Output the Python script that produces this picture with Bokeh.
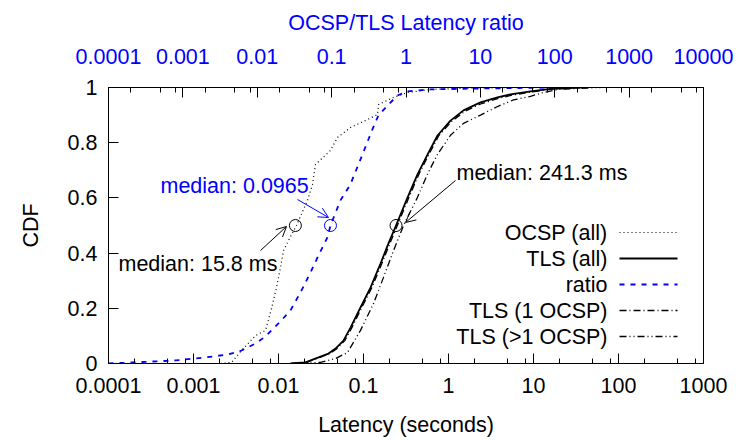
from bokeh.plotting import figure
from bokeh.models import (LogAxis, Range1d, LogScale, FixedTicker,
                          CustomJSTickFormatter, Label, Arrow, OpenHead)
from bokeh.embed import file_html
from bokeh.resources import INLINE

# ---------------- data ----------------
ocsp_lat = [0.00208, 0.0028, 0.00367, 0.00536, 0.00703, 0.00827, 0.00947, 0.01056,
            0.01145, 0.01384, 0.01628, 0.02194, 0.0251, 0.02724, 0.0409, 0.04945,
            0.07035, 0.1115, 0.1461, 0.1502, 0.2254, 0.3293, 0.6141, 1.815, 7.03]
ocsp_cdf = [0.0, 0.004, 0.047, 0.101, 0.120, 0.199, 0.275, 0.348,
            0.409, 0.460, 0.500, 0.591, 0.649, 0.721, 0.772, 0.819,
            0.855, 0.884, 0.902, 0.938, 0.964, 0.982, 0.993, 0.998, 1.0]

tls_lat = [0.01384, 0.02078, 0.02956, 0.03875, 0.04685, 0.05816, 0.07035, 0.09219,
           0.1209, 0.1585, 0.1968, 0.2413, 0.3293, 0.4317, 0.566, 0.7424, 1.056,
           1.502, 2.379, 3.771, 5.362, 9.22, 15.85, 35.7]
tls_cdf = [0.0, 0.004, 0.022, 0.036, 0.054, 0.083, 0.130, 0.203,
           0.275, 0.362, 0.435, 0.500, 0.601, 0.685, 0.757, 0.826, 0.880,
           0.917, 0.946, 0.964, 0.975, 0.986, 0.995, 1.0]

ratio_val = [0.0001, 0.000795, 0.002013, 0.0041, 0.00613, 0.00946, 0.01289, 0.01927,
             0.02794, 0.03926, 0.05353, 0.06646, 0.08779, 0.0965, 0.1313, 0.1789,
             0.2594, 0.3534, 0.4256, 0.5799, 0.7664, 1.044, 2.128, 7.34, 119.0]
ratio_cdf = [0.0, 0.011, 0.022, 0.033, 0.047, 0.072, 0.098, 0.145,
             0.192, 0.264, 0.337, 0.391, 0.457, 0.500, 0.591, 0.649,
             0.757, 0.848, 0.899, 0.938, 0.971, 0.986, 0.993, 0.996, 1.0]

tls1_lat = [0.0144, 0.0216, 0.0307, 0.0402, 0.0486, 0.0603, 0.073, 0.0956,
            0.1254, 0.1644, 0.2041, 0.2503, 0.3415, 0.4477, 0.587, 0.77, 1.095,
            1.558, 2.467, 3.911, 5.561, 9.56, 16.4, 37.0]
tls1_cdf = [0.0, 0.004, 0.022, 0.036, 0.054, 0.083, 0.130, 0.203,
            0.275, 0.362, 0.435, 0.500, 0.601, 0.685, 0.757, 0.826, 0.878,
            0.914, 0.942, 0.961, 0.972, 0.984, 0.994, 1.0]

tlsm_lat = [0.01815, 0.03119, 0.04685, 0.06482, 0.09219, 0.1311, 0.1719, 0.2254,
            0.2956, 0.4317, 0.566, 0.7424, 1.056, 1.502, 2.379, 3.771, 5.818,
            9.22, 13.11, 20.78, 61.4]
tlsm_cdf = [0.0, 0.004, 0.018, 0.040, 0.120, 0.217, 0.312, 0.409,
            0.500, 0.602, 0.686, 0.758, 0.827, 0.870, 0.900, 0.931, 0.955,
            0.968, 0.982, 0.994, 1.0]

ocsp_median_s = 0.0158
tls_median_s = 0.2413
ratio_median = 0.0965

lat_ticks = [0.0001, 0.001, 0.01, 0.1, 1, 10, 100, 1000]
ratio_ticks = [0.0001, 0.001, 0.01, 0.1, 1, 10, 100, 1000, 10000]
minor_factors = [2, 5, 8]
cdf_ticks = [0, 0.2, 0.4, 0.6, 0.8, 1]

series_names = ["OCSP (all)", "TLS (all)", "ratio", "TLS (1 OCSP)", "TLS (>1 OCSP)"]

# ---------------- styles ----------------
FONT = "Liberation Sans"
FS = "21.5px"
BLUE = "#0000ff"
styles = {
    "OCSP (all)": dict(line_color="black", line_width=1.2, line_dash="1 3"),
    "TLS (all)": dict(line_color="black", line_width=1.8, line_dash="solid"),
    "ratio": dict(line_color=BLUE, line_width=1.8, line_dash="5 6"),
    "TLS (1 OCSP)": dict(line_color="black", line_width=1.3, line_dash="7 3 1 3"),
    "TLS (>1 OCSP)": dict(line_color="black", line_width=1.3, line_dash="7 3 1 3 1 3"),
}

p = figure(width=736, height=441, x_axis_type="log",
           x_range=Range1d(lat_ticks[0], lat_ticks[-1]), y_range=Range1d(0, 1),
           output_backend="svg", toolbar_location=None,
           min_border_left=108, min_border_right=33,
           min_border_top=87, min_border_bottom=78)
p.extra_x_ranges = {"ratio": Range1d(ratio_ticks[0], ratio_ticks[-1])}
p.extra_x_scales = {"ratio": LogScale()}
p.grid.visible = False
p.outline_line_color = "black"
p.outline_line_width = 1
p.outline_line_alpha = 1
p.background_fill_color = "white"
p.border_fill_color = "white"

fmt = CustomJSTickFormatter(code="return tick.toString();")


def style_axis(ax, color="black"):
    ax.formatter = fmt
    ax.major_label_text_font = FONT
    ax.major_label_text_font_size = FS
    ax.major_label_text_color = color
    ax.axis_label_text_font = FONT
    ax.axis_label_text_font_size = FS
    ax.axis_label_text_font_style = "normal"
    ax.axis_label_text_color = color
    ax.axis_line_color = "black"
    ax.major_tick_line_color = "black"
    ax.minor_tick_line_color = "black"
    ax.major_tick_in = 10
    ax.major_tick_out = 0
    ax.minor_tick_in = 5
    ax.minor_tick_out = 0


# bottom axis
xa = p.xaxis[0]
xa.ticker = FixedTicker(ticks=lat_ticks,
                        minor_ticks=[t * f for t in lat_ticks[:-1] for f in minor_factors])
style_axis(xa)
xa.axis_label = "Latency (seconds)"
xa.major_label_standoff = 14
xa.axis_label_standoff = 17

# left axis
ya = p.yaxis[0]
ya.ticker = FixedTicker(ticks=cdf_ticks, minor_ticks=[])
style_axis(ya)
ya.axis_label = "CDF"
ya.major_label_standoff = 11
ya.axis_label_standoff = 22

# top axis (ratio)
ta = LogAxis(x_range_name="ratio",
             ticker=FixedTicker(ticks=ratio_ticks,
                                minor_ticks=[t * f for t in ratio_ticks[:-1] for f in minor_factors]),
             axis_label="OCSP/TLS Latency ratio")
style_axis(ta, BLUE)
ta.major_label_standoff = 24
ta.axis_label_standoff = 11
p.add_layout(ta, "above")

# curves
p.line(ocsp_lat, ocsp_cdf, **styles["OCSP (all)"])
p.line(tls_lat, tls_cdf, **styles["TLS (all)"])
p.line(ratio_val, ratio_cdf, x_range_name="ratio", **styles["ratio"])
p.line(tls1_lat, tls1_cdf, **styles["TLS (1 OCSP)"])
p.line(tlsm_lat, tlsm_cdf, **styles["TLS (>1 OCSP)"])

# medians
p.scatter([ocsp_median_s, tls_median_s], [0.5, 0.5], marker="circle", size=12,
          fill_color=None, line_color="black", line_width=1)
p.scatter([ratio_median], [0.5], marker="circle", size=12, x_range_name="ratio",
          fill_color=None, line_color=BLUE, line_width=1)

# annotations (frame-relative screen units)
notes = [
    ("median: %.1f ms" % (ocsp_median_s * 1000), "black", 10, 100, 152, 113, 178, 137),
    ("median: %s" % ratio_median, BLUE, 52, 178, 189, 164, 220, 146),
    ("median: %.1f ms" % (tls_median_s * 1000), "black", 348, 191, 347, 183, 297, 141),
]
for txt, col, tx, ty, x0, y0, x1, y1 in notes:
    p.add_layout(Label(x=tx, y=ty, x_units="screen", y_units="screen", text=txt,
                       text_font=FONT, text_font_size=FS, text_color=col,
                       text_align="left", text_baseline="middle"))
    p.add_layout(Arrow(x_start=x0, y_start=y0, x_end=x1, y_end=y1,
                       start_units="screen", end_units="screen",
                       line_color=col, line_width=1,
                       end=OpenHead(size=10, line_color=col, line_width=1)))

# legend (label left of sample, like gnuplot)
leg_text_x, leg_x0, leg_x1, leg_y0, leg_dy = 499, 511, 569, 131, 26
for i, name in enumerate(series_names):
    yy = leg_y0 - i * leg_dy
    p.add_layout(Label(x=leg_text_x, y=yy, x_units="screen", y_units="screen", text=name,
                       text_font=FONT, text_font_size=FS, text_color="black",
                       text_align="right", text_baseline="middle"))
    st = styles[name]
    p.add_layout(Arrow(x_start=leg_x0, y_start=yy, x_end=leg_x1, y_end=yy,
                       start_units="screen", end_units="screen", end=None,
                       line_color=st["line_color"], line_width=st["line_width"],
                       line_dash=st["line_dash"]))

open("out.html", "w").write(file_html(p, INLINE))
